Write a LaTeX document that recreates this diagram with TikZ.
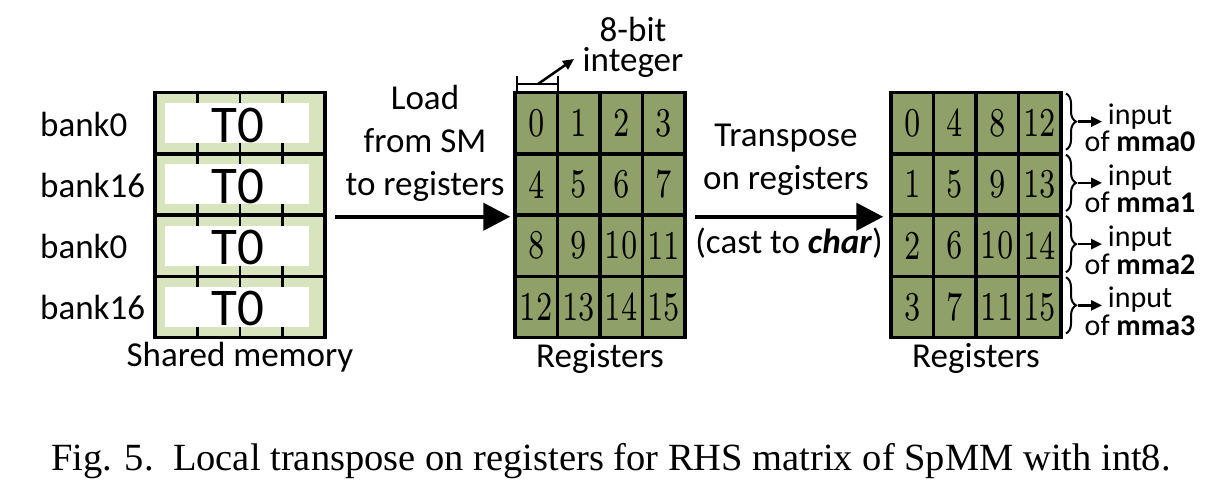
\documentclass[tikz,border=0pt]{standalone}
\usepackage{graphicx}
\usepackage{fontspec}
\newfontfamily\calib{Carlito}
\newfontfamily\timesf{Liberation Serif}
\newfontfamily\lmseven{lmroman7-regular}[Extension=.otf]
\usetikzlibrary{arrows.meta,decorations.pathreplacing}
\definecolor{lightgr}{HTML}{D7E4BD}
\definecolor{cellgreen}{HTML}{8FA068}
\newcommand\labf{\calib\fontsize{35}{43}\selectfont}
\newcommand\smallf{\calib\fontsize{30}{27.5}\selectfont}
\newcommand\numf{\lmseven\fontsize{41}{41}\selectfont}
\newcommand\tof{\calib\fontsize{53}{53}\selectfont}
\newcommand\dig[1]{\scalebox{0.7}[1]{#1}}
\tikzset{
  cell/.style={draw, line width=3.5pt, fill=cellgreen, minimum width=42.5pt, minimum height=61.25pt, inner sep=0pt, font=\numf},
  smrow/.style={draw, line width=3.5pt, fill=lightgr, minimum width=170pt, minimum height=61.25pt, inner sep=0pt},
  whitebox/.style={fill=white, minimum width=144pt, minimum height=40pt, inner sep=0pt},
  lab/.style={font=\labf, inner sep=0pt, align=center},
  tick/.style={line width=2.5pt},
  bigarrow/.style={line width=4.5pt, -{Triangle[length=27pt,width=27pt]}},
  smallarrow/.style={line width=2.5pt, -{Triangle[length=11pt,width=10pt]}},
  bracefig/.style={decorate, decoration={brace, amplitude=10pt}, line width=2pt},
}
\begin{document}
\begin{tikzpicture}[x=1pt,y=-1pt]
\useasboundingbox (0,0) rectangle (1222,492);
% shared memory
\foreach \r/\b in {0/bank0,1/bank16,2/bank0,3/bank16}{
  \pgfmathsetmacro\yc{92.5+61.25*(\r+0.5)}
  \node[smrow] (smr\r) at (240,\yc) {};
  \node[whitebox] (wb\r) at (237,\yc) {};
  \node[font=\tof, inner sep=0pt, anchor=base] (t\r) at (238,\yc+19) {T0};
  \node[font=\labf, inner sep=0pt, anchor=base west] (bank\r) at (40,\yc+13) {\b};
  \foreach \xx in {197.5,240,282.5}{
    \draw[tick] (\xx,\yc-30.6) -- (\xx,\yc-20);
    \draw[tick] (\xx,\yc+20) -- (\xx,\yc+30.6);
  }
}
\node[smrow, fill=none, minimum height=245pt] (small) at (240,215) {};
\node[lab] (smlab) at (240,357) {Shared memory};
% middle registers
\foreach \r in {0,1,2,3}{
  \foreach \c in {0,1,2,3}{
    \pgfmathtruncatemacro\n{4*\r+\c}
    \node[cell] (ma-\r-\c) at (515+42.5*\c+21.25, 92.5+61.25*\r+30.625) {\dig{\n}};
  }
}
\node[lab] (reglab1) at (600,358) {Registers};
% right registers
\foreach \r in {0,1,2,3}{
  \foreach \c in {0,1,2,3}{
    \pgfmathtruncatemacro\n{\r+4*\c}
    \node[cell] (mb-\r-\c) at (891+42.5*\c+21.25, 92.5+61.25*\r+30.625) {\dig{\n}};
  }
}
\node[lab] (reglab2) at (976,358) {Registers};
% arrows
\draw[bigarrow, shorten <=8pt, shorten >=3pt] (smr1.south east) -- (ma-1-0.south west);
\node[lab] (loadlab) at (425,143) {Load\\from SM\\to registers};
\draw[bigarrow, shorten <=8pt, shorten >=6pt] (ma-1-3.south east) -- (mb-1-0.south west);
\node[lab] (translab) at (786,160) {Transpose\\on registers};
\node[lab] (castlab) at (789,243) {(cast to \textbf{\textit{char}})};
% 8-bit bracket
\coordinate (bl) at (517,76);
\coordinate (br) at (558,76);
\coordinate (bm) at (538,84);
\coordinate (bt) at (574,59);
\draw[tick] (bl) -- ++(0,16);
\draw[tick] (br) -- ++(0,16);
\draw[tick] (517,84) -- (558,84);
\draw[smallarrow] (bm) -- (bt);
\node[lab, font=\calib\fontsize{35}{30}\selectfont] (intlab) at (633,47) {8-bit\\integer};
% braces and mma labels
\foreach \r in {0,1,2,3}{
  \pgfmathsetmacro\yt{92.5+61.25*\r+1}
  \pgfmathsetmacro\yb{92.5+61.25*(\r+1)-4}
  \pgfmathsetmacro\ym{(\yt+\yb)/2}
  \draw[bracefig] (1066,\yt) -- (1066,\yb);
  \coordinate (tip\r) at (1078,\ym);
  \coordinate (end\r) at (1102,\ym);
  \draw[smallarrow] (tip\r) -- (end\r);
  \node[font=\smallf, align=center, inner sep=0pt] (mma\r) at (1140,\ym+6) {input\\of \textbf{mma\r}};
}
% caption
\node[font=\timesf\fontsize{38.5}{40}\selectfont, inner sep=0pt, anchor=base] (cap) at (611,470) {Fig. 5.\ \ Local transpose on registers for RHS matrix of SpMM with int8.};
\end{tikzpicture}
\end{document}
